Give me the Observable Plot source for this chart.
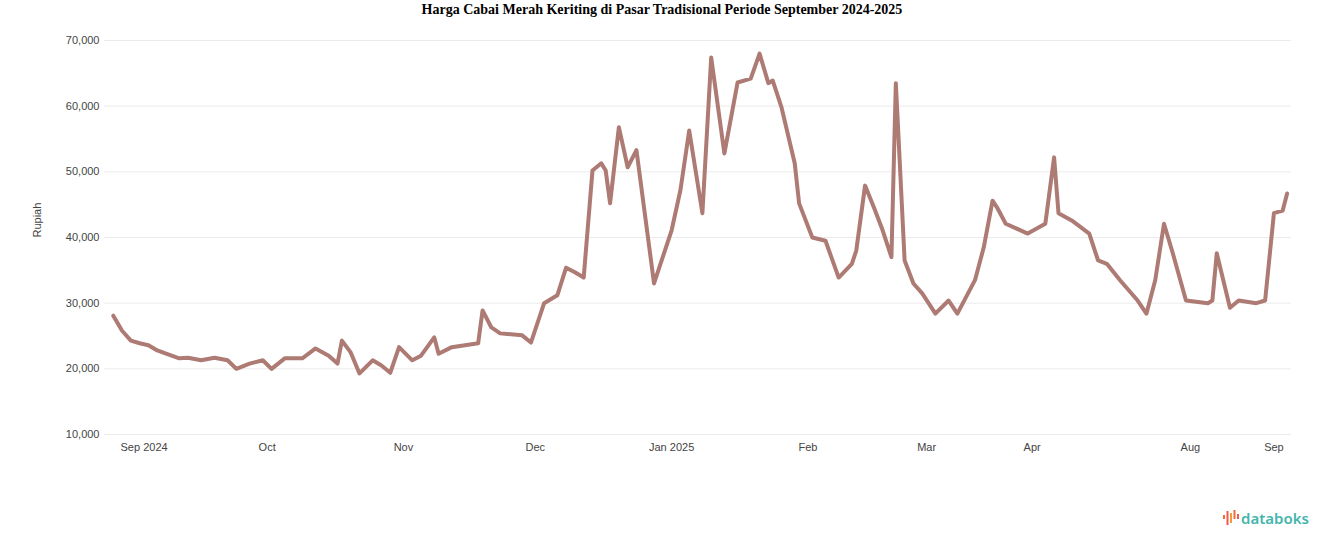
<!DOCTYPE html>
<html>
<head>
<meta charset="utf-8">
<script src="https://cdn.jsdelivr.net/npm/d3@7"></script>
<script src="https://cdn.jsdelivr.net/npm/@observablehq/plot@0.6"></script>
<style>
  html, body { margin: 0; padding: 0; background: #fff; }
  body { width: 1324px; height: 547px; position: relative; overflow: hidden; font-family: "Liberation Sans", Arial, sans-serif; }
  #title { position: absolute; top: 1px; left: 0; width: 1324px; text-align: center; font-family: "Liberation Serif", "Times New Roman", serif; font-weight: bold; font-size: 14px; line-height: 18px; color: #000; }
  #chart { position: absolute; top: 22px; left: 0; }
  #logo { position: absolute; left: 1223px; top: 507px; display: flex; align-items: center; }
  #logo span { font-family: "Noto Sans", "Open Sans", sans-serif; font-weight: 600; font-size: 15px; color: #45b5ad; margin-left: 2px; line-height: 22px; }
</style>
</head>
<body>
<div id="title">Harga Cabai Merah Keriting di Pasar Tradisional Periode September 2024-2025</div>
<div id="chart"></div>
<div id="logo">
  <svg width="16" height="20" viewBox="0 0 16 20">
    <rect x="0" y="7" width="2" height="4" fill="#f26b3a"/>
    <rect x="3.5" y="3" width="2" height="14" fill="#ef5b4c"/>
    <rect x="7" y="5" width="2" height="10" fill="#f39a3b"/>
    <rect x="10.5" y="2" width="2" height="9" fill="#f26b3a"/>
    <rect x="14" y="6" width="2" height="5" fill="#ef5b4c"/>
  </svg>
  <span>databoks</span>
</div>
<script>
// Ordinal position of each observation (trading-day index) and price in Rupiah
const idx = [0,2,4,6,8,10,12,15,17,20,23,26,28,31,34,36,39,43,46,49,51,52,54,56,59,61,63,65,68,70,73,74,77,80,83,84,86,88,93,95,98,101,103,105,107,109,111,112,113,115,117,119,123,127,129,131,134,136,139,142,145,147,149,150,152,155,156,159,162,165,168,169,171,173,175,177,178,180,182,184,187,190,192,196,198,200,201,203,208,212,214,215,218,222,224,226,229,233,235,237,239,241,244,249,250,251,254,256,260,262,264,266,267];
const price = [28100,25800,24300,23900,23600,22800,22300,21600,21700,21300,21700,21300,20000,20800,21300,20000,21600,21600,23100,22000,20800,24300,22500,19300,21300,20500,19400,23300,21300,22000,24800,22300,23300,23600,23900,28900,26300,25400,25100,24000,30000,31200,35400,34700,33900,50200,51300,50200,45200,56800,50700,53300,33000,41100,47200,56300,43700,67400,52800,63600,64200,68000,63500,63900,59800,51300,45200,40000,39500,33900,36000,38000,47900,44600,41100,37000,63500,36500,33000,31500,28400,30400,28400,33500,38500,45600,44600,42100,40600,42100,52200,43700,42600,40600,36500,36000,33500,30400,28400,33500,42100,37600,30400,30000,30400,37600,29300,30400,30000,30400,43700,44100,46700];

// Month tick positions and labels
const tickIdx = [7, 35, 66, 96, 127, 158, 185, 209, 245, 264];
const tickLabels = ["Sep 2024", "Oct", "Nov", "Dec", "Jan 2025", "Feb", "Mar", "Apr", "Aug", "Sep"];
const yTicks = [10000, 20000, 30000, 40000, 50000, 60000, 70000];
const yTitle = "Rupiah";

const data = idx.map((d, k) => ({i: d, v: price[k]}));

const chart = Plot.plot({
  width: 1324,
  height: 460,
  marginLeft: 104,
  marginRight: 33,
  marginTop: 18,
  marginBottom: 48,
  style: {background: "#fff", color: "#444", fontFamily: "'Liberation Sans', Arial, sans-serif"},
  x: {domain: [-2, 268], axis: null},
  y: {domain: [10000, 70000], axis: null},
  marks: [
    Plot.ruleY(yTicks, {stroke: "#ebebeb", strokeWidth: 1}),
    Plot.axisY({ticks: yTicks, tickFormat: d => d3.format(",")(d), tickSize: 0, tickPadding: 5, label: null, fill: "#444", fontSize: 11}),
    Plot.axisX({ticks: tickIdx, tickFormat: d => tickLabels[tickIdx.indexOf(d)], tickSize: 0, tickPadding: 9, label: null, fill: "#444", fontSize: 11}),
    Plot.text([yTitle], {frameAnchor: "left", dx: -67, rotate: -90, fill: "#444", fontSize: 11}),
    Plot.line(data, {x: "i", y: "v", stroke: "#ad7a74", strokeWidth: 4, strokeLinejoin: "round", strokeLinecap: "round"})
  ]
});
document.getElementById("chart").appendChild(chart);
</script>
</body>
</html>
